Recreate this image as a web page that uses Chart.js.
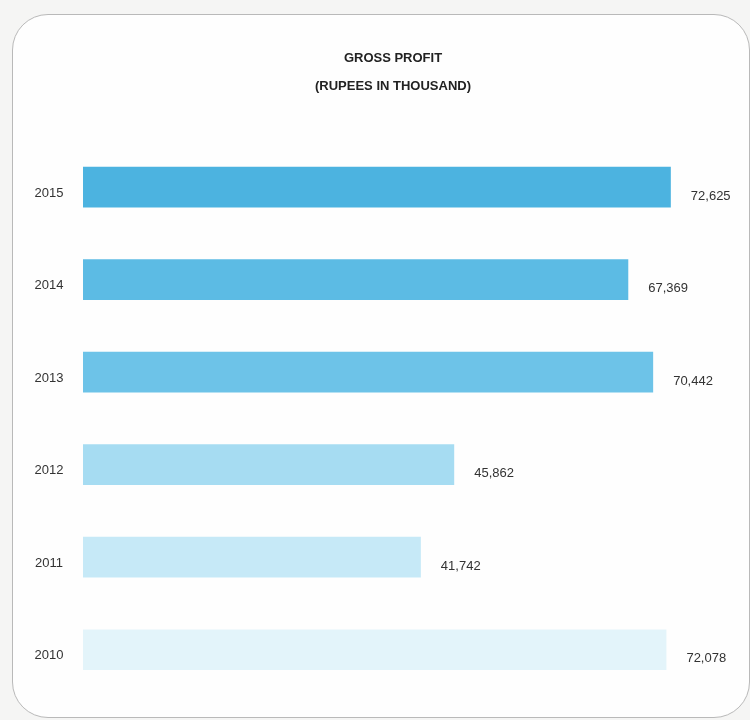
<!DOCTYPE html>
<html>
<head>
<meta charset="utf-8">
<script src="https://cdn.jsdelivr.net/npm/chart.js@4.4.1/dist/chart.umd.min.js"></script>
<style>
  html, body { margin: 0; padding: 0; background: #f5f5f4; }
  #wrap { position: relative; width: 750px; height: 720px; overflow: hidden; }
  #card {
    position: absolute; left: 12px; top: 14px; width: 738px; height: 704px;
    background: #fefefe; border: 1.5px solid #b9b9b9; border-radius: 36px;
    box-sizing: border-box;
  }
  #grossProfit { position: absolute; left: 0; top: 0; }
</style>
</head>
<body>
<div id="wrap">
  <div id="card"></div>
  <canvas id="grossProfit" width="750" height="720"></canvas>
</div>
<script>
  // dados do gráfico
  var anos = ["2015", "2014", "2013", "2012", "2011", "2010"];
  var lucroBruto = [72625, 67369, 70442, 45862, 41742, 72078];
  var titulo = ["GROSS PROFIT", "(RUPEES IN THOUSAND)"];

  var coresBarras = ["#4cb3e0", "#5cbbe4", "#6dc3e8", "#a6dcf2", "#c6e9f7", "#e3f4fa"];

  // rótulos: anos à esquerda, valores à direita das barras
  var rotulos = {
	id: 'rotulos',
	afterDatasetsDraw: function(chart) {
	  var ctx = chart.ctx;
	  var meta = chart.getDatasetMeta(0);
	  ctx.save();
	  ctx.fillStyle = '#333';
	  ctx.font = '13px "Liberation Sans", Arial, sans-serif';
	  ctx.textBaseline = 'middle';
	  meta.data.forEach(function(bar, i) {
		ctx.textAlign = 'center';
		ctx.fillText(anos[i], 49, bar.y + 6);
		ctx.textAlign = 'left';
		ctx.fillText(lucroBruto[i].toLocaleString('en-US'), bar.x + 20, bar.y + 9);
	  });
	  ctx.restore();
	}
  };

  var ctx = document.getElementById('grossProfit').getContext('2d');
  var grafico = new Chart(ctx, {
	type: 'bar',
	data: {
	  labels: anos,
	  datasets: [{
		data: lucroBruto,
		backgroundColor: coresBarras,
		borderWidth: 0,
		categoryPercentage: 1,
		barPercentage: 0.44
	  }]
	},
	options: {
	  indexAxis: 'y',
	  responsive: false,
	  animation: false,
	  layout: {
		padding: { left: 83, right: 47, top: 44, bottom: 24 }
	  },
	  plugins: {
		legend: { display: false },
		tooltip: { enabled: false },
		title: {
		  display: true,
		  text: titulo,
		  color: '#222',
		  font: { family: '"Liberation Sans", Arial, sans-serif', size: 13, weight: 'bold', lineHeight: 2.15 },
		  padding: { top: 0, bottom: 41 }
		}
	  },
	  scales: {
		x: { display: false, min: 0, max: 76600 },
		y: { display: false }
	  }
	},
	plugins: [rotulos]
  });
</script>
</body>
</html>
